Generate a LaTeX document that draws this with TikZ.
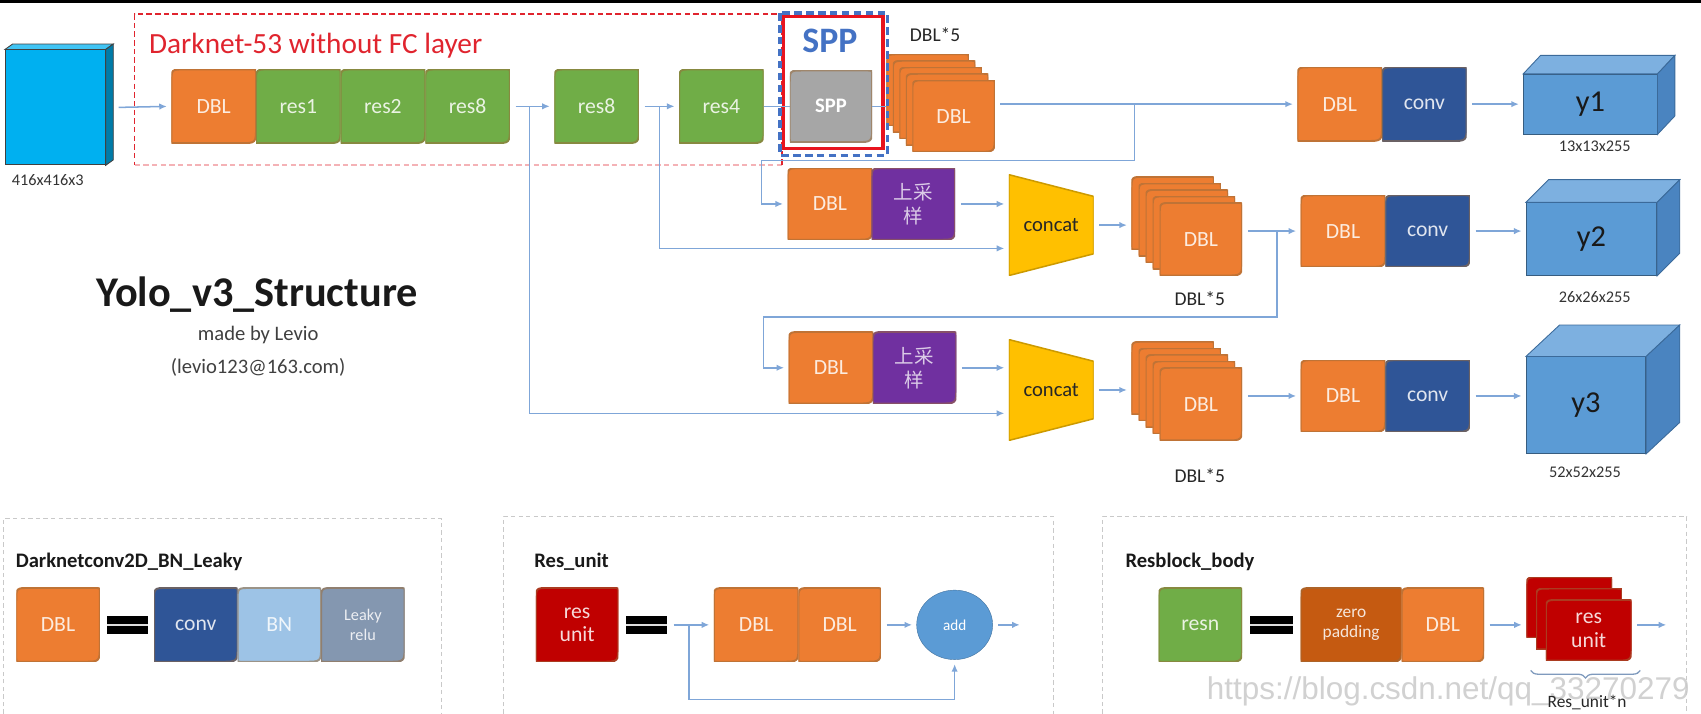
\documentclass[tikz,border=0pt]{standalone}
\usepackage{fontspec}
\setmainfont{Carlito}
\newfontfamily\cjk{Noto Sans CJK SC}
\newfontfamily\markfont{Liberation Sans}
\usetikzlibrary{calc,arrows.meta,shapes.geometric,decorations.pathreplacing}

\definecolor{dblorange}{HTML}{ED7D31}
\definecolor{resgreen}{HTML}{70AD47}
\definecolor{convblue}{HTML}{2F5597}
\definecolor{bnblue}{HTML}{9DC3E6}
\definecolor{leakygray}{HTML}{8497B0}
\definecolor{upviolet}{HTML}{7030A0}
\definecolor{concatgold}{HTML}{FFC000}
\definecolor{resred}{HTML}{C00000}
\definecolor{zpadbrown}{HTML}{C55A11}
\definecolor{sppgray}{HTML}{A6A6A6}
\definecolor{sppblue}{HTML}{4472C4}
\definecolor{framered}{HTML}{E8141E}
\definecolor{titlered}{HTML}{E0242E}
\definecolor{linkblue}{HTML}{7FA6D8}
\definecolor{cubefront}{HTML}{5B9BD5}
\definecolor{cubetop}{HTML}{7DB0E0}
\definecolor{cubeside}{HTML}{4A84C0}
\definecolor{incyan}{HTML}{00B0F0}
\definecolor{panelgray}{HTML}{C9C9C9}
\definecolor{addblue}{HTML}{5B9BD5}
\definecolor{edgebrown}{HTML}{9A6B3A}

% top and side faces of a box drawn behind a front node
\newcommand{\boxsides}[6]{%
  \filldraw[fill=#4, draw=#6, line width=0.8pt] (#1.north west) -- ([xshift=#2pt,yshift=#3pt]#1.north west)
    -- ([xshift=#2pt,yshift=#3pt]#1.north east) -- (#1.north east) -- cycle;
  \filldraw[fill=#5, draw=#6, line width=0.8pt] (#1.north east) -- ([xshift=#2pt,yshift=#3pt]#1.north east)
    -- ([xshift=#2pt,yshift=#3pt]#1.south east) -- (#1.south east) -- cycle;}

\tikzset{
  blk/.style={inner sep=0pt, text=white!85!#1, align=center, minimum width=78, minimum height=68,
    font=\fontsize{20}{22}\selectfont,
    path picture={
      \filldraw[fill=#1, draw=#1!45!edgebrown, line width=1.8pt]
        ([xshift=3pt]path picture bounding box.south west)
        .. controls (path picture bounding box.south west) .. ([yshift=3pt]path picture bounding box.south west)
        -- ([yshift=-12pt]path picture bounding box.north west)
        .. controls (path picture bounding box.north west) .. ([xshift=12pt]path picture bounding box.north west)
        -- ([xshift=-4pt]path picture bounding box.north east)
        .. controls (path picture bounding box.north east) .. ([yshift=-4pt]path picture bounding box.north east)
        -- ([yshift=15pt]path picture bounding box.south east)
        .. controls (path picture bounding box.south east) .. ([xshift=-15pt]path picture bounding box.south east)
        -- cycle;}},
  eqsign/.style={minimum width=38, minimum height=17, inner sep=0pt, fill=black,
    path picture={\fill[white!75!gray] ([yshift=-1.2pt]path picture bounding box.west)
      rectangle ([yshift=1.2pt]path picture bounding box.east);}},
  concatbox/.style={minimum width=78, minimum height=93, inner sep=0pt, text=black!85,
    font=\fontsize{19}{21}\selectfont,
    path picture={\filldraw[fill=concatgold, draw=concatgold!80!black, line width=1.4pt]
      (path picture bounding box.north west) -- ([yshift=-20pt]path picture bounding box.north east)
      -- ([yshift=20pt]path picture bounding box.south east) -- (path picture bounding box.south west) -- cycle;}},
  cubebox/.style={fill=#1, draw=#1!60!black, line width=0.8pt, inner sep=0pt,
    font=\fontsize{28}{30}\selectfont, text=black!90},
  link/.style={draw=linkblue, line width=1.4pt},
  linkarr/.style={link, -{Latex[length=7pt,width=6pt]}, shorten >=4pt},
  gap/.style={shorten <=5pt},
  panel/.style={draw=panelgray, line width=1pt, dash pattern=on 4pt off 3pt},
  dimlbl/.style={font=\fontsize{15}{17}\selectfont, text=black!80},
  headlbl/.style={font=\fontsize{19}{21}\selectfont\bfseries, anchor=west, text=black!90},
}

\begin{document}
\begin{tikzpicture}[x=1pt, y=-1pt]
\useasboundingbox (0,0) rectangle (1568,658);
\fill[black] (0,0) rectangle (1568,3);

% ####################################### backbone
\draw[titlered!35, line width=1.2pt, dash pattern=on 5pt off 3pt] (124,152) -- (721,152);
\draw[titlered, line width=1.4pt, dash pattern=on 5pt off 3pt] (721,152) -- (721,13) -- (124,13) -- (124,152);
\node[anchor=west, text=titlered, font=\fontsize{27}{29}\selectfont] (dnlabel) at (134,42) {Darknet-53 without FC layer};

\node[cubebox=incyan, draw=black!75, minimum width=92, minimum height=106] (in0) at (51,99) {};
\boxsides{in0}{7}{5}{incyan!75!white}{incyan!70!black}{black!75}
\node[dimlbl] (in0lbl) at (44,166) {416x416x3};

\node[blk=dblorange] (dbl0) at (197,98) {DBL};
\node[blk=resgreen] (res1) at (275,98) {res1};
\node[blk=resgreen] (res2) at (353,98) {res2};
\node[blk=resgreen] (res8a) at (431,98) {res8};
\node[blk=resgreen] (res8b) at (550,98) {res8};
\node[blk=resgreen] (res4) at (665,98) {res4};
\node[blk=sppgray, minimum width=76, minimum height=66, text=white, font=\fontsize{19}{21}\selectfont\bfseries] (spp) at (766,98) {SPP};

\coordinate (st1) at (879,107);
\foreach \i in {4,3,2,1}
  \node[blk=dblorange, minimum width=76, minimum height=66] (st1-\i) at ($(st1)+(-6*\i,-6*\i)$) {};
\node[blk=dblorange, minimum width=76, minimum height=66] (dbl5a) at (st1) {DBL};
\node[dimlbl, font=\fontsize{18}{20}\selectfont, text=black!85] (dbl5alab) at (862,32) {DBL*5};

\draw[sppblue, line width=3pt, dash pattern=on 7pt off 4pt] (719,12) rectangle (818,143);
\draw[framered, line width=3pt] (722,15) rectangle (814,137);
\node[text=sppblue, font=\fontsize{33}{35}\selectfont\bfseries] (spptitle) at (765,38) {SPP};

\node[blk=dblorange] (dbly1) at (1235,96) {DBL};
\node[blk=convblue] (convy1) at (1313,96) {conv};
\node[cubebox=cubefront, minimum width=123, minimum height=55] (y1) at (1466,96) {y1};
\boxsides{y1}{16}{17}{cubetop}{cubeside}{cubeside!80!black}
\node[dimlbl] (y1lbl) at (1470,135) {13x13x255};

% ####################################### second scale
\node[blk=dblorange, minimum height=66] (dblup2) at (765,188) {DBL};
\node[blk=upviolet, minimum width=77, minimum height=66, text=upviolet!25!white, font=\cjk\fontsize{18}{22}\selectfont] (up2) at (842,188) {上采\\样};
\node[concatbox] (concat2) at (969,207.5) {concat};
\coordinate (st2) at (1107,220.5);
\foreach \i in {4,3,2,1}
  \node[blk=dblorange, minimum width=76, minimum height=67] (st2-\i) at ($(st2)+(-6.5*\i,-6*\i)$) {};
\node[blk=dblorange, minimum width=76, minimum height=67] (dbl5b) at (st2) {DBL};
\node[dimlbl, font=\fontsize{18}{20}\selectfont, text=black!85] (dbl5blab) at (1106,275) {DBL*5};
\node[blk=dblorange, minimum height=66] (dbly2) at (1238,213) {DBL};
\node[blk=convblue, minimum height=66] (convy2) at (1316,213) {conv};
\node[cubebox=cubefront, minimum width=120, minimum height=67] (y2) at (1467,220.5) {y2};
\boxsides{y2}{21}{21}{cubetop}{cubeside}{cubeside!80!black}
\node[dimlbl] (y2lbl) at (1470,274) {26x26x255};

% ####################################### third scale
\node[blk=dblorange, minimum height=66] (dblup3) at (766,339) {DBL};
\node[blk=upviolet, minimum width=77, minimum height=66, text=upviolet!25!white, font=\cjk\fontsize{18}{22}\selectfont] (up3) at (843,339) {上采\\样};
\node[concatbox] (concat3) at (969,359.5) {concat};
\coordinate (st3) at (1107,372.5);
\foreach \i in {4,3,2,1}
  \node[blk=dblorange, minimum width=76, minimum height=67] (st3-\i) at ($(st3)+(-6.5*\i,-6*\i)$) {};
\node[blk=dblorange, minimum width=76, minimum height=67] (dbl5c) at (st3) {DBL};
\node[dimlbl, font=\fontsize{18}{20}\selectfont, text=black!85] (dbl5clab) at (1106,438) {DBL*5};
\node[blk=dblorange, minimum height=66] (dbly3) at (1238,365) {DBL};
\node[blk=convblue, minimum height=66] (convy3) at (1316,365) {conv};
\node[cubebox=cubefront, minimum width=110, minimum height=89] (y3) at (1462,373.5) {y3};
\boxsides{y3}{31}{29}{cubetop}{cubeside}{cubeside!80!black}
\node[dimlbl] (y3lbl) at (1461,435) {52x52x255};

% ####################################### connectors
\draw[linkarr] ([xshift=12pt]in0.east) -- (dbl0.west);
\coordinate (j1) at (488,98);
\coordinate (j2) at (608,98);
\draw[linkarr, gap] (res8a.east) -- (res8b.west);
\draw[linkarr] (j1) |- ([yshift=-21.5pt]concat3.west);
\draw[linkarr, gap] (res8b.east) -- (res4.west);
\draw[linkarr] (j2) |- ([yshift=-21.5pt]concat2.west);
\draw[link] (res4.east) -- (spp.west);
\draw[link] (spp.east) -- (spp.east -| st1-4.west);
\draw[linkarr, gap] (dbl5a.east |- dbly1.west) -- (dbly1.west);
\coordinate (j3) at (1046,96);
\coordinate (k3) at (702,148);
\draw[linkarr] (j3) |- (k3) |- (dblup2.west);
\draw[linkarr, gap] (convy1.east) -- (convy1.east -| y1.west);

\draw[linkarr, gap] (up2.east) -- (up2.east -| concat2.west);
\draw[linkarr, gap] (concat2.east) -- (concat2.east -| st2-4.west);
\draw[linkarr, gap] (dbl5b.east |- dbly2.west) -- (dbly2.west);
\coordinate (j4) at (1177,213);
\coordinate (k4) at (704,292);
\draw[linkarr] (j4) |- (k4) |- (dblup3.west);
\draw[linkarr, gap] (convy2.east) -- (convy2.east -| y2.west);

\draw[linkarr, gap] (up3.east) -- (up3.east -| concat3.west);
\draw[linkarr, gap] (concat3.east) -- (concat3.east -| st3-4.west);
\draw[linkarr, gap] (dbl5c.east |- dbly3.west) -- (dbly3.west);
\draw[linkarr, gap] (convy3.east) -- (convy3.east -| y3.west);

% ####################################### title
\node[font=\fontsize{39}{41}\selectfont\bfseries, text=black!90] (title) at (237,272) {Yolo\_v3\_Structure};
\node[font=\fontsize{19}{21}\selectfont, text=black!75] (madeby) at (238,309) {made by Levio};
\node[font=\fontsize{19}{21}\selectfont, text=black!75] (mail) at (238,339) {(levio123@163.com)};

% ####################################### legend panels
\draw[panel] (3,665) -- (3,478) -- (407,478) -- (407,665);
\node[headlbl] (h1) at (11,518) {Darknetconv2D\_BN\_Leaky};
\node[blk=dblorange, minimum width=77] (dblk) at (53.5,576) {DBL};
\node[eqsign] (eq1) at (117.5,576) {};
\node[blk=convblue, minimum width=77] (convk) at (180.5,576) {conv};
\node[blk=bnblue, minimum width=77] (bnk) at (257.5,576) {BN};
\node[blk=leakygray, minimum width=77, font=\fontsize{15}{18}\selectfont] (leaky) at (334.5,576) {Leaky\\relu};

\draw[panel] (464,665) -- (464,476) -- (971,476) -- (971,665);
\node[headlbl] (h2) at (489,518) {Res\_unit};
\node[blk=resred, minimum width=76] (resu) at (532,576) {res\\unit};
\node[eqsign] (eq2) at (596,576) {};
\node[blk=dblorange] (dblr1) at (697,576) {DBL};
\node[blk=dblorange, minimum width=76] (dblr2) at (774,576) {DBL};
\node[ellipse, fill=addblue, draw=addblue!75!black, minimum width=70, minimum height=64, inner sep=0pt, text=white, font=\fontsize{14}{16}\selectfont] (add) at (880,576) {add};
\coordinate (ru0) at (621,576);
\coordinate (ru1) at (635,576);
\coordinate (ru2) at (880,645);
\coordinate (ru3) at (944,576);
\draw[linkarr] (ru0) -- (dblr1.west);
\draw[linkarr] (ru1) |- (ru2) -- (add.south);
\draw[linkarr, gap] (dblr2.east) -- (add.west);
\draw[linkarr, gap] (add.east) -- (ru3);

\node[text=black!18, font=\markfont\fontsize{29}{31}\selectfont] (wmark) at (1335,637) {https://blog.csdn.net/qq\_33270279};
\draw[panel] (1016,665) -- (1016,476) -- (1555,476) -- (1555,665);
\node[headlbl] (h3) at (1034,518) {Resblock\_body};
\node[blk=resgreen, minimum width=77] (resn) at (1106.5,576) {resn};
\node[eqsign, minimum width=40] (eq3) at (1172,576) {};
\node[blk=zpadbrown, minimum width=93, font=\fontsize{16}{18}\selectfont] (zpad) at (1245.5,576) {zero\\padding};
\node[blk=dblorange, minimum width=76] (dblz) at (1330,576) {DBL};
\coordinate (ru4) at (1464.5,581);
\foreach \i in {2,1}
  \node[blk=resred, minimum width=79, minimum height=56] (ru4-\i) at ($(ru4)+(-9*\i,-10.5*\i)$) {};
\node[blk=resred, minimum width=79, minimum height=56] (resus) at (ru4) {res\\unit};
\coordinate (ru5) at (1540,576);
\draw[linkarr, gap] (dblz.east) -- (dblz.east -| ru4-2.west);
\draw[linkarr, gap] (resus.east |- ru5) -- (ru5);
\draw[decorate, decoration={brace, mirror, amplitude=7pt}, draw=linkblue!70!gray, line width=1.2pt] (1411,618) -- (1512,618);
\node[font=\fontsize{16}{18}\selectfont, text=black!85] (runlbl) at (1463,648) {Res\_unit*n};

\end{tikzpicture}
\end{document}
